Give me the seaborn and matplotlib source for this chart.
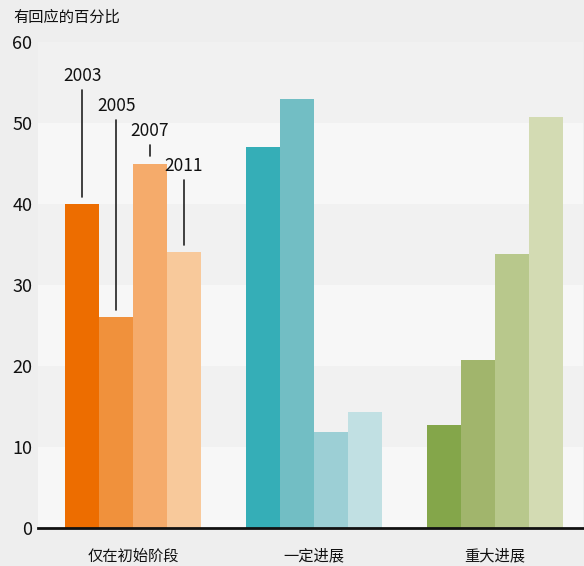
import matplotlib
matplotlib.use("Agg")
import matplotlib.pyplot as plt
import seaborn as sns
import pandas as pd

categories = ["仅在初始阶段", "一定进展", "重大进展"]
years = ["2003", "2005", "2007", "2011"]
v2003 = [40, 47, 12.7]
v2005 = [26, 53, 20.8]
v2007 = [45, 11.8, 33.8]
v2011 = [34.1, 14.3, 50.8]
yticks = [0, 10, 20, 30, 40, 50, 60]
ylabel = "有回应的百分比"

group_colors = [
    ["#ed6d00", "#f0913c", "#f5ab6b", "#f8c99b"],
    ["#35aeb7", "#72bec4", "#9ccfd5", "#c1e0e3"],
    ["#84a64a", "#a1b56c", "#b8c88c", "#d3dbb3"],
]

rows = []
for y, vals in zip(years, [v2003, v2005, v2007, v2011]):
    for c, v in zip(categories, vals):
        rows.append({"cat": c, "year": y, "val": v})
df = pd.DataFrame(rows)

sns.set_theme(style="white")
plt.rcParams["font.family"] = ["Noto Sans CJK SC", "DejaVu Sans"]

fig = plt.figure(figsize=(5.84, 5.66), dpi=100, facecolor="#eeeeee")
ax = fig.add_axes([38 / 584, 38 / 566, 545 / 584, 486 / 566])
ax.set_facecolor("#eeeeee")

# bands
for i in range(6):
    ax.axhspan(i * 10, (i + 1) * 10, color="#f7f7f7" if i % 2 == 0 else "#f1f1f1",
               zorder=0, lw=0)

sns.barplot(data=df, x="cat", y="val", hue="year", order=categories,
            hue_order=years, width=0.75, ax=ax, legend=False, saturation=1,
            zorder=2)

for hi, cont in enumerate(ax.containers):
    for gi, patch in enumerate(cont):
        patch.set_facecolor(group_colors[gi][hi])
        patch.set_edgecolor("none")
        patch.set_linewidth(0)

# year annotations on first group
line_tops = [54.1, 50.4, 47.3, 43.0]
for hi, cont in enumerate(ax.containers):
    p = cont[0]
    xc = p.get_x() + p.get_width() / 2
    top = p.get_height()
    ax.plot([xc, xc], [top + 0.9, line_tops[hi]], color="#222222", lw=1.2, zorder=3)
    ax.text(xc, line_tops[hi] + 0.6, years[hi], ha="center", va="bottom",
            fontsize=12.5, color="#111111", zorder=3)

ax.set_ylim(0, 60)
ax.set_xlim(-0.525, 2.485)
ax.set_yticks(yticks)
ax.set_yticklabels([str(t) for t in yticks], fontsize=13, color="#111111")
ax.tick_params(axis="y", length=0, pad=4)
ax.tick_params(axis="x", length=0, pad=14, labelsize=11, colors="#111111")
ax.set_xlabel("")
ax.set_ylabel("")
for s in ["top", "right", "left"]:
    ax.spines[s].set_visible(False)
ax.spines["bottom"].set_color("#111111")
ax.spines["bottom"].set_linewidth(2)
ax.spines["bottom"].set_zorder(4)

fig.text(13 / 584, 1 - 17 / 566, ylabel, ha="left", va="center", fontsize=11,
         color="#111111")

fig.savefig("out.png", dpi=100, facecolor=fig.get_facecolor())
